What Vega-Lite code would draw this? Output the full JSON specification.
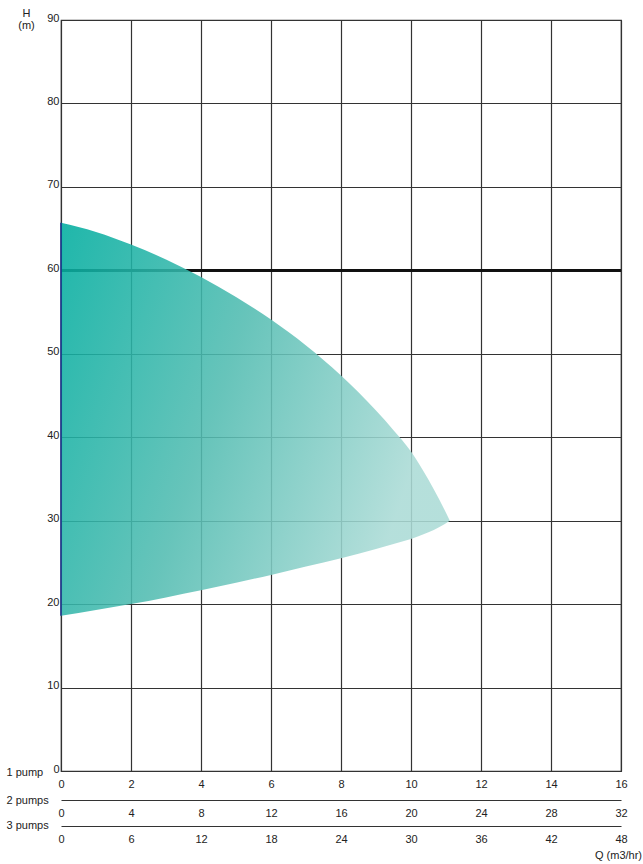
{
  "$schema": "https://vega.github.io/schema/vega-lite/v6.json",
  "width": 560,
  "height": 751,
  "autosize": {"type": "none"},
  "padding": {"left": 61, "top": 20, "right": 22, "bottom": 93},
  "background": "white",
  "config": {
    "font": "Liberation Sans",
    "view": {"stroke": "#333333", "strokeWidth": 1.2},
    "axis": {"labelFont": "Liberation Sans", "titleFont": "Liberation Sans", "labelColor": "#222222", "titleColor": "#222222"}
  },
  "title": {
    "text": "Q (m3/hr)",
    "orient": "bottom",
    "anchor": "end",
    "frame": "group",
    "fontSize": 11,
    "fontWeight": "normal",
    "color": "#222222",
    "dx": 21,
    "offset": 6
  },
  "data": {
    "values": [
      {"q": 0, "upper": 65.7, "lower": 18.6},
      {"q": 1, "upper": 64.6, "lower": 19.3},
      {"q": 2, "upper": 63.1, "lower": 20.0},
      {"q": 3, "upper": 61.3, "lower": 20.8},
      {"q": 4, "upper": 59.2, "lower": 21.65},
      {"q": 5, "upper": 56.8, "lower": 22.55},
      {"q": 6, "upper": 54.1, "lower": 23.5},
      {"q": 7, "upper": 51.0, "lower": 24.5},
      {"q": 8, "upper": 47.4, "lower": 25.5},
      {"q": 9, "upper": 43.2, "lower": 26.6},
      {"q": 9.5, "upper": 40.85, "lower": 27.2},
      {"q": 10, "upper": 38.3, "lower": 27.8},
      {"q": 10.5, "upper": 34.9, "lower": 28.6},
      {"q": 10.8, "upper": 32.6, "lower": 29.2},
      {"q": 11.11, "upper": 30.0, "lower": 30.0}
    ]
  },
  "resolve": {"scale": {"x": "independent"}, "axis": {"x": "independent"}},
  "layer": [
    {
      "layer": [
        {
          "mark": {"type": "rule", "color": "#111111", "strokeWidth": 2},
          "encoding": {"y": {"datum": 60, "type": "quantitative"}}
        },
        {
          "mark": {
            "type": "area",
            "interpolate": "monotone",
            "fillOpacity": 0.88,
            "color": {
              "gradient": "linear",
              "x1": 0, "y1": 0, "x2": 1, "y2": 0.35,
              "stops": [
                {"offset": 0, "color": "#00ad9f"},
                {"offset": 0.5, "color": "#52bcb1"},
                {"offset": 1, "color": "#abdbd6"}
              ]
            }
          },
          "encoding": {
            "x": {
              "field": "q",
              "type": "quantitative",
              "scale": {"domain": [0, 16], "nice": false, "zero": false},
              "axis": {
                "orient": "bottom",
                "values": [0, 2, 4, 6, 8, 10, 12, 14, 16],
                "grid": true,
                "gridColor": "#333333",
                "gridWidth": 1.2,
                "domain": false,
                "ticks": false,
                "labelPadding": 7,
                "labelFontSize": 11,
                "labelFlush": false,
                "title": "1 pump",
                "titleFontSize": 11,
                "titleFontWeight": "normal",
                "titleX": -55,
                "titleY": 4,
                "titleAlign": "left",
                "titleBaseline": "alphabetic"
              }
            },
            "y": {
              "field": "upper",
              "type": "quantitative",
              "scale": {"domain": [0, 90], "nice": false},
              "axis": {
                "values": [0, 10, 20, 30, 40, 50, 60, 70, 80, 90],
                "grid": true,
                "gridColor": "#333333",
                "gridWidth": 1.2,
                "domain": false,
                "ticks": false,
                "labelPadding": 2,
                "labelFontSize": 11,
                "labelBaseline": "alphabetic",
                "labelOffset": 1,
                "labelFlush": false,
                "title": ["H", "(m)"],
                "titleAngle": 0,
                "titleFontSize": 11,
                "titleFontWeight": "normal",
                "titleLineHeight": 12,
                "titleX": -35,
                "titleY": -13,
                "titleAlign": "center",
                "titleBaseline": "top"
              }
            },
            "y2": {"field": "lower"}
          }
        },
        {
          "transform": [{"filter": "datum.q === 0"}],
          "mark": {"type": "rule", "color": "#1a2a8a", "strokeWidth": 1.5},
          "encoding": {
            "x": {"field": "q", "type": "quantitative"},
            "y": {"field": "lower", "type": "quantitative"},
            "y2": {"field": "upper"}
          }
        }
      ]
    },
    {
      "transform": [{"calculate": "datum.q * 2", "as": "q2"}],
      "mark": {"type": "point", "opacity": 0},
      "encoding": {
        "x": {
          "field": "q2",
          "type": "quantitative",
          "scale": {"domain": [0, 32], "nice": false, "zero": false},
          "axis": {
            "orient": "bottom",
            "offset": 29,
            "values": [0, 4, 8, 12, 16, 20, 24, 28, 32],
            "grid": false,
            "domain": true,
            "domainColor": "#333333",
            "domainWidth": 1.2,
            "ticks": false,
            "labelPadding": 7,
            "labelFontSize": 11,
            "labelFlush": false,
            "title": "2 pumps",
            "titleFontSize": 11,
            "titleFontWeight": "normal",
            "titleX": -55,
            "titleY": 3,
            "titleAlign": "left",
            "titleBaseline": "alphabetic"
          }
        },
        "y": {"field": "lower", "type": "quantitative"}
      }
    },
    {
      "transform": [{"calculate": "datum.q * 3", "as": "q3"}],
      "mark": {"type": "point", "opacity": 0},
      "encoding": {
        "x": {
          "field": "q3",
          "type": "quantitative",
          "scale": {"domain": [0, 48], "nice": false, "zero": false},
          "axis": {
            "orient": "bottom",
            "offset": 55,
            "values": [0, 6, 12, 18, 24, 30, 36, 42, 48],
            "grid": false,
            "domain": true,
            "domainColor": "#333333",
            "domainWidth": 1.2,
            "ticks": false,
            "labelPadding": 7,
            "labelFontSize": 11,
            "labelFlush": false,
            "title": "3 pumps",
            "titleFontSize": 11,
            "titleFontWeight": "normal",
            "titleX": -55,
            "titleY": 2,
            "titleAlign": "left",
            "titleBaseline": "alphabetic"
          }
        },
        "y": {"field": "lower", "type": "quantitative"}
      }
    }
  ]
}
